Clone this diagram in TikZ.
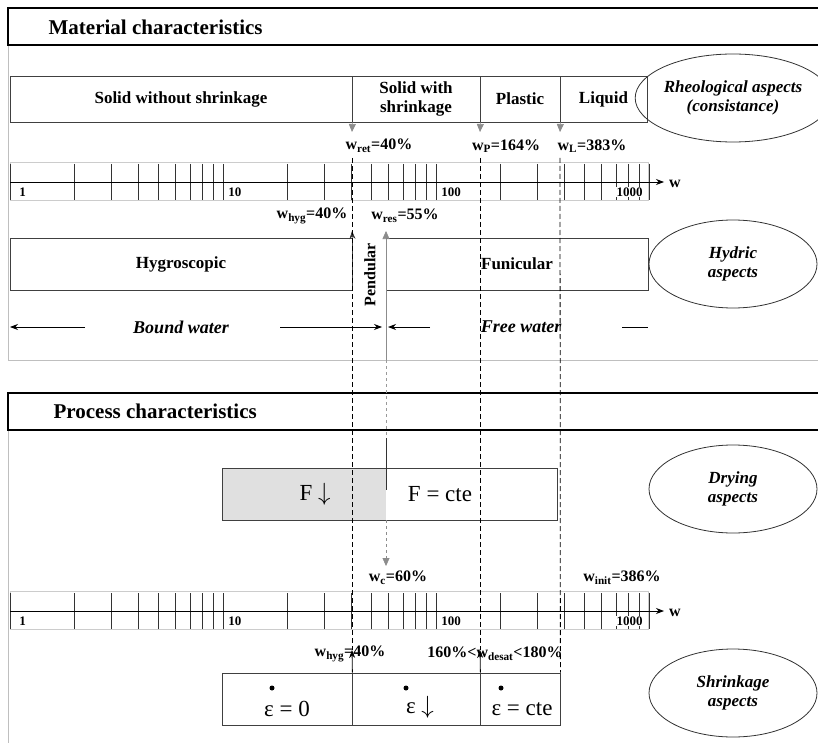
\documentclass[tikz,border=0pt]{standalone}
\usepackage{fontspec}
\setmainfont{Liberation Serif}
\usetikzlibrary{arrows.meta, shapes.geometric}

\begin{document}
\begin{tikzpicture}[
            x = 1pt, y = -1pt, % one unit is one pixel, y points down
            > = {Stealth[length = 8pt, width = 6pt]}, % arrow head style
            semithick % line style
        ]

        \tikzstyle{cell}=[
            draw = black!75,
            thick,
            rectangle,
            inner sep = 0pt,
            align = center,
            font = \bfseries\fontsize{17}{19}\selectfont
        ]
        \tikzstyle{aspect}=[
            draw = black!80,
            thick,
            ellipse,
            minimum width = 168pt,
            minimum height = 88pt,
            inner sep = 0pt,
            align = center,
            font = \bfseries\itshape\fontsize{17}{19}\selectfont
        ]
        \tikzstyle{headline}=[anchor = west, font = \bfseries\fontsize{21}{24}\selectfont]
        \tikzstyle{wlabel}=[inner sep = 1pt, font = \bfseries\fontsize{16}{18}\selectfont]
        \tikzstyle{scalenum}=[inner sep = 1pt, fill = white, font = \bfseries\fontsize{13}{15}\selectfont]
        \tikzstyle{water}=[font = \bfseries\itshape\fontsize{18}{20}\selectfont]
        \tikzstyle{bigtext}=[font = \fontsize{23}{26}\selectfont]
        \tikzstyle{epsdot}=[circle, fill = black, inner sep = 0pt, minimum size = 5pt]
        \tikzstyle{limit}=[black, thick, dash pattern = on 5pt off 3pt]
        \tikzstyle{greyarrow}=[-{Triangle[length = 8pt, width = 7pt]}, black!45]

        \useasboundingbox (0,0) rectangle (818,743);
        \fill[white] (0,0) rectangle (818,743);

        % material characteristics
        \draw[black!25] (8,45) -- (8,360) -- (818,360);
        \draw[very thick] (818,8) -- (8,8) -- (8,45) -- (818,45);
        \node[headline] (mat) at (45,27) {Material characteristics};

        \node[cell, minimum width = 342pt, minimum height = 46pt] (solid) at (181,99) {Solid without shrinkage};
        \node[cell, minimum width = 128pt, minimum height = 46pt] (solidshr) at (416,99) {Solid with\\shrinkage};
        \node[cell, minimum width = 80pt, minimum height = 46pt] (plastic) at (520,99) {Plastic};
        \node[cell, minimum width = 87pt, minimum height = 46pt] (liquid) at (603.5,99) {Liquid};
        \node[aspect] (rheo) at (733,98) {Rheological aspects\\(consistance)};

        \coordinate (ret) at (352,132);
        \coordinate (plim) at (480,132);
        \coordinate (llim) at (560,132);
        \draw[greyarrow] (solid.south east) -- (ret);
        \draw[greyarrow] (solidshr.south east) -- (plim);
        \draw[greyarrow] (plastic.south east) -- (llim);

        \node[wlabel] (wret) at (379,146) {w\textsubscript{ret}=40\%};
        \node[wlabel] (wp) at (506,146) {w\textsubscript{P}=164\%};
        \node[wlabel] (wl) at (592,146) {w\textsubscript{L}=383\%};

        % log scales of water content
        \foreach \sy in {182, 611} {
            \draw[black!20] (10,\sy-20) rectangle (648,\sy+18);
            \foreach \d in {1,10,100} {
                \foreach \m in {2,...,10} {
                    \pgfmathsetmacro{\tx}{10+213*log10(\m*\d)}
                    \draw[black!80, thick] (\tx,\sy-18) -- (\tx,\sy+18);
                }
            }
            \draw[black!80, thick] (10,\sy-18) -- (10,\sy+18);
            \node[scalenum, anchor = west] (one\sy) at (18,\sy+10) {1};
            \node[scalenum, anchor = west] (ten\sy) at (227,\sy+10) {10};
            \node[scalenum, anchor = west] (hun\sy) at (440,\sy+10) {100};
            \node[scalenum, anchor = east] (tho\sy) at (644,\sy+10) {1000};
            \draw[->, thick] (10,\sy) -- (664,\sy);
            \node[wlabel] (w\sy) at (675,\sy+2) {w};
        }

        % hydric aspects
        \node[wlabel] (whyg) at (312,216) {w\textsubscript{hyg}=40\%};
        \node[wlabel] (wres) at (405,216) {w\textsubscript{res}=55\%};

        \node[cell, minimum width = 342pt, minimum height = 52pt] (hygro) at (181,264) {Hygroscopic};
        \node[cell, minimum width = 262pt, minimum height = 52pt] (funic) at (517,264) {Funicular};
        \node[cell, draw = none, rotate = 90, font = \bfseries\fontsize{16}{18}\selectfont] (pend) at (370,275) {Pendular};
        \node[aspect] (hydric) at (733,264) {Hydric\\aspects};

        \coordinate (hygtip) at (352,231);
        \coordinate (restip) at (386,231);
        \coordinate (pendbot) at (386,360);
        \draw[->, black!80] (hygro.north east) -- (hygtip);
        \draw[greyarrow] (pendbot) -- (restip);

        \node[water] (bound) at (181,327) {Bound water};
        \node[water] (free) at (521,327) {Free water};
        \coordinate (bl0) at (85,327);
        \coordinate (bl1) at (10,327);
        \coordinate (br0) at (280,327);
        \coordinate (br1) at (382,327);
        \coordinate (fl0) at (430,327);
        \coordinate (fl1) at (388,327);
        \coordinate (fr0) at (622,327);
        \coordinate (fr1) at (648,327);
        \draw[->, thick] (bl0) -- (bl1);
        \draw[->, thick] (br0) -- (br1);
        \draw[->, thick] (fl0) -- (fl1);
        \draw[thick] (fr0) -- (fr1);

        % process characteristics
        \draw[black!25] (8,430) -- (8,743);
        \draw[very thick] (818,393) -- (8,393) -- (8,430) -- (818,430);
        \node[headline] (proc) at (50,411) {Process characteristics};

        \fill[black!12] (222,468) rectangle (386,520);
        \node[cell, minimum width = 335pt, minimum height = 52pt] (dry) at (389.5,494) {};
        \node[bigtext] (fdown) at (315,494) {F $\downarrow$};
        \node[bigtext] (fcte) at (440,494) {F = cte};
        \node[aspect] (dryasp) at (733,489) {Drying\\aspects};

        \coordinate (ftop) at (386,438);
        \coordinate (fmid) at (386,490);
        \coordinate (fbot) at (386,520);
        \coordinate (wctip) at (386,566);
        \draw[black!40, thin, dashed] (pendbot) -- (ftop);
        \draw[black!80] (ftop) -- (fmid);
        \draw[greyarrow, thin, dashed] (fbot) -- (wctip);

        \node[wlabel] (wc) at (398,578) {w\textsubscript{c}=60\%};
        \node[wlabel] (winit) at (622,578) {w\textsubscript{init}=386\%};

        % shrinkage aspects
        \node[wlabel] (whyg2) at (350,654) {w\textsubscript{hyg}=40\%};
        \node[wlabel] (wdesat) at (495,654) {160\%<w\textsubscript{desat}<180\%};

        \node[cell, minimum width = 130pt, minimum height = 52pt] (sh0) at (287,699) {};
        \node[cell, minimum width = 128pt, minimum height = 52pt] (sh1) at (416,699) {};
        \node[cell, minimum width = 80pt, minimum height = 52pt] (sh2) at (520,699) {};
        \node[bigtext] (e0) at (287,709) {ε = 0};
        \node[bigtext] (e1) at (420,707) {ε $\downarrow$};
        \node[bigtext] (e2) at (522,709) {ε = cte};
        \node[epsdot] (e0dot) at (272,688) {};
        \node[epsdot] (e1dot) at (406,688) {};
        \node[epsdot] (e2dot) at (501,688) {};
        \node[aspect] (shrasp) at (733,693) {Shrinkage\\aspects};

        \coordinate (hygup) at (352,650);
        \coordinate (desup) at (480,650);
        \draw[->, thick] (sh0.north east) -- (hygup);
        \draw[->, thick] (sh1.north east) -- (desup);

        % limits carried through both parts
        \coordinate (d1) at (352,158);
        \coordinate (d2) at (480,158);
        \coordinate (d3) at (560,158);
        \draw[limit] (d1) -- (hygup);
        \draw[limit] (d2) -- (desup);
        \draw[limit] (d3) -- (sh2.north east);

  \end{tikzpicture}
\end{document}
